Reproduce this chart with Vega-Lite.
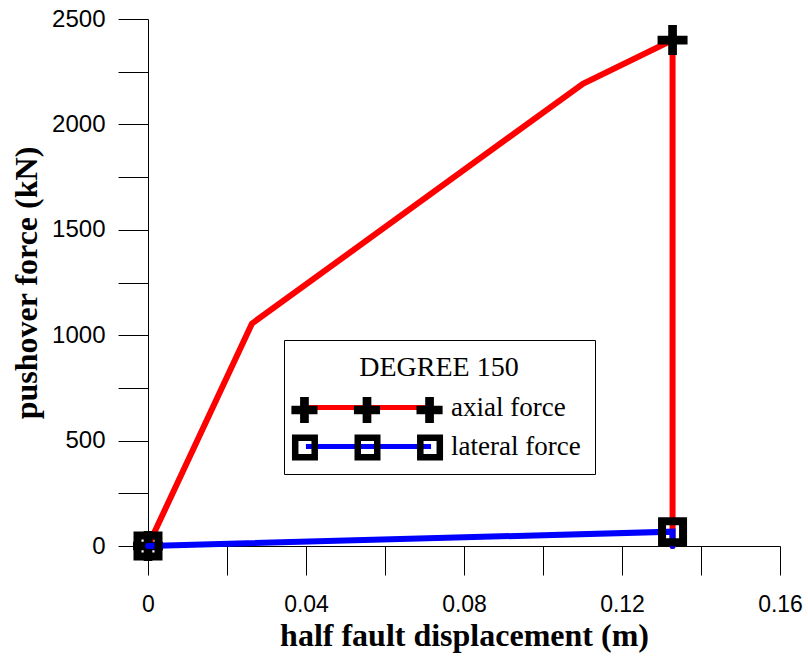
{
  "$schema": "https://vega.github.io/schema/vega-lite/v6.json",
  "width": 632,
  "height": 527,
  "autosize": "none",
  "padding": {"left": 148, "top": 19, "right": 28, "bottom": 111},
  "background": "white",
  "config": {
    "view": {"stroke": null},
    "axis": {"grid": false, "domainColor": "black", "tickColor": "black", "labelColor": "black", "titleColor": "black", "domainWidth": 1, "tickWidth": 1}
  },
  "data": {
    "values": [
      {"series": "axial force", "x": 0, "y": 0, "step": 1, "marker": true},
      {"series": "axial force", "x": 0.0263, "y": 1055, "step": 2, "marker": false},
      {"series": "axial force", "x": 0.1101, "y": 2193, "step": 3, "marker": false},
      {"series": "axial force", "x": 0.1328, "y": 2400, "step": 4, "marker": true},
      {"series": "axial force", "x": 0.1328, "y": 0, "step": 5, "marker": false},
      {"series": "lateral force", "x": 0, "y": 0, "step": 1, "marker": true},
      {"series": "lateral force", "x": 0.1328, "y": 68, "step": 2, "marker": true},
      {"series": "lateral force", "x": 0.1328, "y": 0, "step": 3, "marker": false}
    ]
  },
  "encoding": {
    "x": {
      "field": "x", "type": "quantitative",
      "scale": {"domain": [0, 0.16], "nice": false},
      "axis": {
        "title": "half fault displacement (m)",
        "titleFont": "Liberation Serif", "titleFontSize": 32, "titleFontWeight": "bold", "titlePadding": 4,
        "labelFont": "Liberation Sans", "labelFontSize": 23, "labelPadding": 18, "labelOverlap": false, "labelFlush": false,
        "values": [0, 0.02, 0.04, 0.06, 0.08, 0.1, 0.12, 0.14, 0.16],
        "tickSize": 29,
        "labelExpr": "abs(datum.value/0.04 - round(datum.value/0.04)) < 0.001 ? (datum.value === 0 ? '0' : format(datum.value, '.2f')) : ''",
        "encode": {"ticks": {"update": {"y2": {"signal": "abs(datum.value/0.04 - round(datum.value/0.04)) < 0.001 ? 29 : 14"}}}}
      }
    },
    "y": {
      "field": "y", "type": "quantitative",
      "scale": {"domain": [0, 2500], "nice": false},
      "axis": {
        "title": "pushover force (kN)",
        "titleFont": "Liberation Serif", "titleFontSize": 32, "titleFontWeight": "bold", "titlePadding": 8,
        "labelFont": "Liberation Sans", "labelFontSize": 24, "labelPadding": 13, "labelOverlap": false,
        "values": [0, 250, 500, 750, 1000, 1250, 1500, 1750, 2000, 2250, 2500],
        "tickSize": 30,
        "labelExpr": "datum.value % 500 === 0 ? format(datum.value, 'd') : ''",
        "encode": {"ticks": {"update": {"x2": {"signal": "datum.value % 500 === 0 ? -30 : -15"}}}}
      }
    },
    "order": {"field": "step", "type": "quantitative"}
  },
  "layer": [
    {
      "transform": [{"filter": "datum.series === 'axial force'"}],
      "mark": {"type": "line", "strokeWidth": 6, "strokeCap": "round"},
      "encoding": {
        "color": {
          "field": "series", "type": "nominal",
          "scale": {"domain": ["axial force", "lateral force"], "range": ["#ff0000", "#0000ff"]},
          "legend": {
            "orient": "none", "legendX": 136, "legendY": 321,
            "title": "DEGREE 150", "titleFont": "Liberation Serif", "titleFontSize": 28, "titleFontWeight": "normal", "titleColor": "black", "titleAnchor": "middle", "titlePadding": 8,
            "labelFont": "Liberation Serif", "labelFontSize": 27, "labelColor": "black", "labelOffset": 65, "labelLimit": 400,
            "symbolType": "M-4.17,0H4.17", "symbolSize": 900, "symbolStrokeWidth": 5, "symbolOffset": 53,
            "padding": 14, "rowPadding": 8,
            "strokeColor": "black", "fillColor": "white"
          }
        }
      }
    },
    {
      "transform": [{"filter": "datum.series === 'axial force' && datum.marker"}],
      "mark": {"type": "point", "filled": true, "shape": "M-1,-0.29H-0.29V-1H0.29V-0.29H1V0.29H0.29V1H-0.29V0.29H-1Z", "size": 900, "opacity": 1},
      "encoding": {
        "fill": {
          "field": "series", "type": "nominal",
          "scale": {"domain": ["axial force"], "range": ["black"]},
          "legend": {
            "orient": "none", "legendX": 204, "legendY": 376,
            "title": null, "labelExpr": "''", "labelFontSize": 26,
            "symbolType": "M-5.04,-0.29H-4.46V-0.87H-3.88V-0.29H-3.3V0.29H-3.88V0.87H-4.46V0.29H-5.04ZM-0.87,-0.29H-0.29V-0.87H0.29V-0.29H0.87V0.29H0.29V0.87H-0.29V0.29H-0.87ZM3.3,-0.29H3.88V-0.87H4.46V-0.29H5.04V0.29H4.46V0.87H3.88V0.29H3.3Z",
            "symbolSize": 900, "symbolStrokeColor": "transparent", "symbolStrokeWidth": 0, "symbolOffset": 0, "symbolOpacity": 1,
            "padding": 0
          }
        }
      }
    },
    {
      "transform": [{"filter": "datum.series === 'lateral force'"}],
      "mark": {"type": "line", "strokeWidth": 6, "strokeCap": "round"},
      "encoding": {
        "color": {
          "field": "series", "type": "nominal",
          "scale": {"domain": ["axial force", "lateral force"], "range": ["#ff0000", "#0000ff"]},
          "legend": {
            "orient": "none", "legendX": 136, "legendY": 321,
            "title": "DEGREE 150", "titleFont": "Liberation Serif", "titleFontSize": 28, "titleFontWeight": "normal", "titleColor": "black", "titleAnchor": "middle", "titlePadding": 8,
            "labelFont": "Liberation Serif", "labelFontSize": 27, "labelColor": "black", "labelOffset": 65, "labelLimit": 400,
            "symbolType": "M-4.17,0H4.17", "symbolSize": 900, "symbolStrokeWidth": 5, "symbolOffset": 53,
            "padding": 14, "rowPadding": 8,
            "strokeColor": "black", "fillColor": "white"
          }
        }
      }
    },
    {
      "transform": [{"filter": "datum.series === 'lateral force' && datum.marker"}],
      "mark": {"type": "point", "filled": false, "shape": "square", "size": 441, "strokeWidth": 8, "opacity": 1},
      "encoding": {
        "stroke": {
          "field": "series", "type": "nominal",
          "scale": {"domain": ["lateral force"], "range": ["black"]},
          "legend": {
            "orient": "none", "legendX": 201, "legendY": 410,
            "title": null, "labelExpr": "''", "labelFontSize": 26,
            "symbolType": "M-4.82,-0.65H-3.52V0.65H-4.82ZM-0.65,-0.65H0.65V0.65H-0.65ZM3.52,-0.65H4.82V0.65H3.52Z",
            "symbolSize": 900, "symbolFillColor": "transparent", "symbolStrokeWidth": 6.5, "symbolOffset": 0, "symbolOpacity": 1,
            "padding": 0
          }
        }
      }
    }
  ]
}
